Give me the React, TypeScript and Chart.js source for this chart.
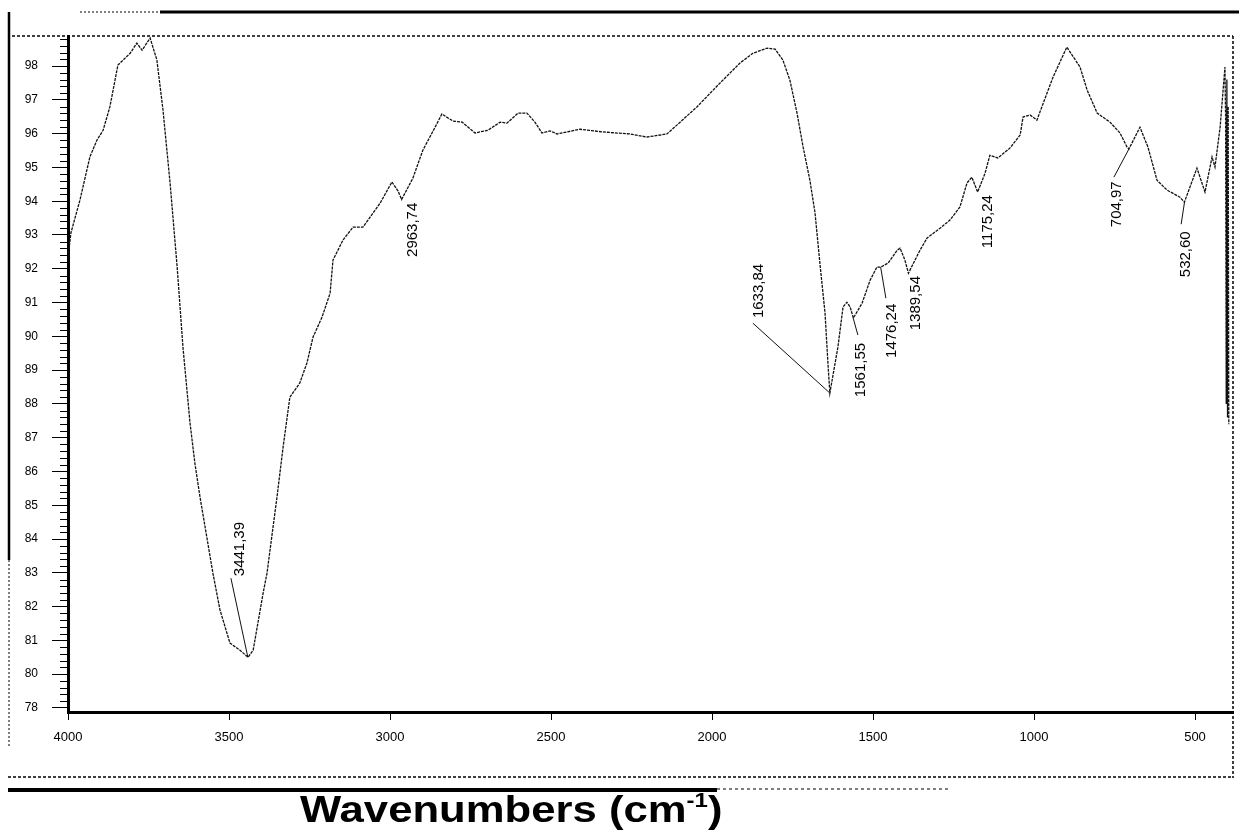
import React, { useEffect, useRef } from "react";
import { Chart, registerables } from "chart.js";

Chart.register(...registerables);

// ---- Data ----
const wavenumbers = [
  4000, 3991, 3963, 3932, 3910, 3891, 3870, 3845, 3807, 3786, 3770, 3745, 3724, 3705, 3683, 3661,
  3643, 3621, 3606, 3590, 3550, 3528, 3497, 3466, 3441, 3425, 3394, 3382, 3351, 3332, 3311, 3280,
  3258, 3239, 3211, 3186, 3177, 3146, 3115, 3084, 3031, 2994, 2975, 2964, 2929, 2898, 2860, 2839,
  2804, 2776, 2736, 2696, 2658, 2637, 2602, 2575, 2550, 2528, 2503, 2481, 2410, 2339, 2255, 2202,
  2140, 2099, 2047, 1975, 1913, 1873, 1829, 1804, 1780, 1758, 1736, 1717, 1696, 1680, 1665, 1649,
  1640, 1634, 1609, 1593, 1581, 1571, 1561, 1534, 1509, 1488, 1476, 1453, 1425, 1416, 1401, 1390,
  1354, 1332, 1292, 1261, 1230, 1208, 1193, 1175, 1152, 1137, 1112, 1075, 1043, 1034, 1012, 991,
  941, 898, 857, 835, 804, 764, 733, 711, 705, 671, 646, 618, 587, 547, 533, 494,
  469, 447, 438, 422, 407, 405, 403, 401, 399, 397, 395,
];
const transmittance = [
  92.32, 93.06, 94.03, 95.31, 95.81, 96.1, 96.79, 98.03, 98.38, 98.68, 98.47, 98.83, 98.18, 96.7, 94.54, 92.05,
  89.68, 87.43, 86.25, 85.24, 82.99, 81.9, 80.92, 80.71, 80.5, 80.71, 82.4, 82.99, 85.24, 86.72, 88.2, 88.62,
  89.21, 89.98, 90.57, 91.28, 92.26, 92.85, 93.23, 93.23, 93.94, 94.57, 94.3, 94.05, 94.68, 95.51, 96.19, 96.58,
  96.37, 96.34, 96.02, 96.1, 96.34, 96.31, 96.61, 96.61, 96.34, 96.02, 96.08, 95.99, 96.13, 96.05, 95.99, 95.9,
  95.99, 96.34, 96.79, 97.5, 98.09, 98.38, 98.53, 98.5, 98.18, 97.58, 96.61, 95.6, 94.62, 93.65, 92.17, 90.69,
  89.21, 88.32, 89.68, 90.87, 91.01, 90.87, 90.54, 90.98, 91.66, 92.05, 92.05, 92.17, 92.55, 92.61, 92.26, 91.87,
  92.55, 92.91, 93.2, 93.44, 93.83, 94.54, 94.71, 94.27, 94.83, 95.36, 95.28, 95.57, 95.96, 96.49, 96.55, 96.4,
  97.67, 98.56, 97.97, 97.29, 96.61, 96.34, 96.02, 95.6, 95.55, 96.19, 95.6, 94.62, 94.33, 94.12, 93.97, 94.98,
  94.27, 95.31, 95.01, 96.19, 97.97, 96.5, 88.0, 97.6, 87.6, 96.8, 87.4,
];

const xTickValues = [4000, 3500, 3000, 2500, 2000, 1500, 1000, 500];
const yTickValues = [79, 80, 81, 82, 83, 84, 85, 86, 87, 88, 89, 90, 91, 92, 93, 94, 95, 96, 97, 98];
const yTickLabels = ["78", "80", "81", "82", "83", "84", "85", "86", "87", "88", "89", "90", "91", "92", "93", "94", "95", "96", "97", "98"];

const peakLabels = ["3441,39", "2963,74", "1633,84", "1561,55", "1476,24", "1389,54", "1175,24", "704,97", "532,60"];
const peakWavenumbers = [3441.39, 2963.74, 1633.84, 1561.55, 1476.24, 1389.54, 1175.24, 704.97, 532.6];
const peakValues = [80.5, 94.05, 88.32, 90.54, 92.05, 91.87, 94.27, 95.55, 93.97];

// label placement (data coordinates): leader-line end and text start
const labelLayout = {
  leaderWn: [3494, 2964, 1873, 1547, 1460, 1389, 1175, 752, 543],
  leaderT: [82.84, 94.05, 90.39, 90.04, 91.13, 91.87, 94.27, 94.71, 93.32],
  textWn: [3466, 2929, 1854, 1537, 1441, 1366, 1143, 742, 528],
  textT: [82.9, 92.35, 90.54, 88.2, 89.36, 90.18, 92.61, 93.23, 91.75],
};

const W = 1239;
const H = 830;
const FONT = '"Liberation Sans", Arial, sans-serif';

function line(ctx: CanvasRenderingContext2D, x1: number, y1: number, x2: number, y2: number) {
  ctx.beginPath();
  ctx.moveTo(x1, y1);
  ctx.lineTo(x2, y2);
  ctx.stroke();
}

const backgroundPlugin = {
  id: "bg",
  beforeDraw(chart: any) {
    const ctx = chart.ctx;
    ctx.save();
    ctx.fillStyle = "#fff";
    ctx.fillRect(0, 0, chart.width, chart.height);
    ctx.restore();
  },
};

const framePlugin = {
  id: "frame",
  afterDraw(chart: any) {
    const ctx: CanvasRenderingContext2D = chart.ctx;
    const { left, right, top, bottom } = chart.chartArea;
    const ys = chart.scales.y;
    ctx.save();
    ctx.strokeStyle = "#000";
    // minor y ticks
    ctx.lineWidth = 1;
    for (let v = 79; v < 98.85; v += 0.2) {
      const r = Math.round(v * 10) / 10;
      if (Math.abs(r - Math.round(r)) < 0.01) continue;
      const p = Math.round(ys.getPixelForValue(r)) + 0.5;
      line(ctx, left - 8, p, left, p);
    }
    // plot frame: top & right (dashed thin)
    ctx.lineWidth = 1.5;
    ctx.setLineDash([3, 2]);
    line(ctx, 12, top, right, top);
    line(ctx, right, top, right, bottom + 66);
    // bottom thin dashed line
    line(ctx, 8, bottom + 65, right, bottom + 65);
    // left outer border
    ctx.setLineDash([]);
    ctx.lineWidth = 2.5;
    line(ctx, 9, 12, 9, 560);
    ctx.lineWidth = 1;
    ctx.setLineDash([2, 2]);
    line(ctx, 9, 560, 9, 748);
    // top outer line
    line(ctx, 80, 12, 160, 12);
    ctx.setLineDash([]);
    ctx.lineWidth = 3;
    line(ctx, 160, 12, W, 12);
    // bottom thick line
    ctx.lineWidth = 4;
    line(ctx, 8, bottom + 78, 717, bottom + 78);
    ctx.lineWidth = 1;
    ctx.setLineDash([3, 3]);
    line(ctx, 717, bottom + 77, 950, bottom + 77);
    ctx.restore();
  },
};

const annotationPlugin = {
  id: "peaks",
  afterDatasetsDraw(chart: any) {
    const ctx: CanvasRenderingContext2D = chart.ctx;
    const xs = chart.scales.x;
    const ys = chart.scales.y;
    ctx.save();
    ctx.strokeStyle = "#111";
    ctx.fillStyle = "#000";
    ctx.lineWidth = 1;
    ctx.font = `15px ${FONT}`;
    peakLabels.forEach((lab, i) => {
      const px = xs.getPixelForValue(peakWavenumbers[i]);
      const py = ys.getPixelForValue(peakValues[i]);
      const lx = xs.getPixelForValue(labelLayout.leaderWn[i]);
      const ly = ys.getPixelForValue(labelLayout.leaderT[i]);
      line(ctx, px, py, lx, ly);
      const tx = xs.getPixelForValue(labelLayout.textWn[i]);
      const ty = ys.getPixelForValue(labelLayout.textT[i]);
      ctx.save();
      ctx.translate(tx, ty);
      ctx.rotate(-Math.PI / 2);
      ctx.textAlign = "left";
      ctx.textBaseline = "middle";
      ctx.fillText(lab, 0, 0);
      ctx.restore();
    });
    ctx.restore();
  },
};

export default function App() {
  const canvasRef = useRef<HTMLCanvasElement | null>(null);

  useEffect(() => {
    const canvas = canvasRef.current;
    if (!canvas) return;
    const points = wavenumbers.map((w, i) => ({ x: w, y: transmittance[i] }));
    const chart = new Chart(canvas, {
      type: "line",
      data: {
        datasets: [
          {
            data: points,
            borderColor: "#111",
            borderWidth: 1.3,
            borderDash: [3, 1],
            pointRadius: 0,
            tension: 0,
            fill: false,
          },
        ],
      },
      options: {
        responsive: false,
        animation: false,
        events: [],
        layout: { padding: { left: 8, right: 6, top: 36, bottom: 78 } },
        plugins: { legend: { display: false }, tooltip: { enabled: false }, title: { display: false } },
        scales: {
          x: {
            type: "linear",
            reverse: true,
            min: 382,
            max: 4000,
            afterBuildTicks: (scale: any) => {
              scale.ticks = xTickValues.map((v) => ({ value: v }));
            },
            afterFit: (scale: any) => {
              scale.height = 40;
            },
            grid: { drawOnChartArea: false, drawTicks: true, tickLength: 8, color: "#000", lineWidth: 1 },
            border: { display: true, color: "#000", width: 3 },
            ticks: {
              color: "#000",
              font: { family: FONT, size: 13 },
              padding: 10,
              maxRotation: 0,
              autoSkip: false,
              callback: (v: any) => String(v),
            },
          },
          y: {
            type: "linear",
            min: 78.88,
            max: 98.89,
            afterBuildTicks: (scale: any) => {
              scale.ticks = yTickValues.map((v) => ({ value: v }));
            },
            afterFit: (scale: any) => {
              scale.width = 60;
            },
            grid: { drawOnChartArea: false, drawTicks: true, tickLength: 16, color: "#000", lineWidth: 1 },
            border: { display: true, color: "#000", width: 3 },
            ticks: {
              color: "#000",
              font: { family: FONT, size: 12 },
              padding: 14,
              autoSkip: false,
              callback: (v: any) => {
                const i = yTickValues.indexOf(v);
                return i >= 0 ? yTickLabels[i] : "";
              },
            },
          },
        },
      },
      plugins: [backgroundPlugin, annotationPlugin, framePlugin],
    } as any);
    return () => chart.destroy();
  }, []);

  return (
    <div style={{ position: "absolute", left: 0, top: 0, width: W, height: H, background: "#fff", overflow: "hidden" }}>
      <canvas ref={canvasRef} width={W} height={H} style={{ display: "block", width: W, height: H }} />
      <div
        style={{
          position: "absolute",
          left: 300,
          top: 791,
          fontFamily: FONT,
          fontWeight: "bold",
          fontSize: 37,
          lineHeight: "37px",
          color: "#000",
          whiteSpace: "nowrap",
          transform: "scaleX(1.18)",
          transformOrigin: "0 0",
        }}
      >
        Wavenumbers (cm<sup style={{ fontSize: "0.55em", verticalAlign: "0.75em", lineHeight: 0 }}>-1</sup>)
      </div>
    </div>
  );
}
